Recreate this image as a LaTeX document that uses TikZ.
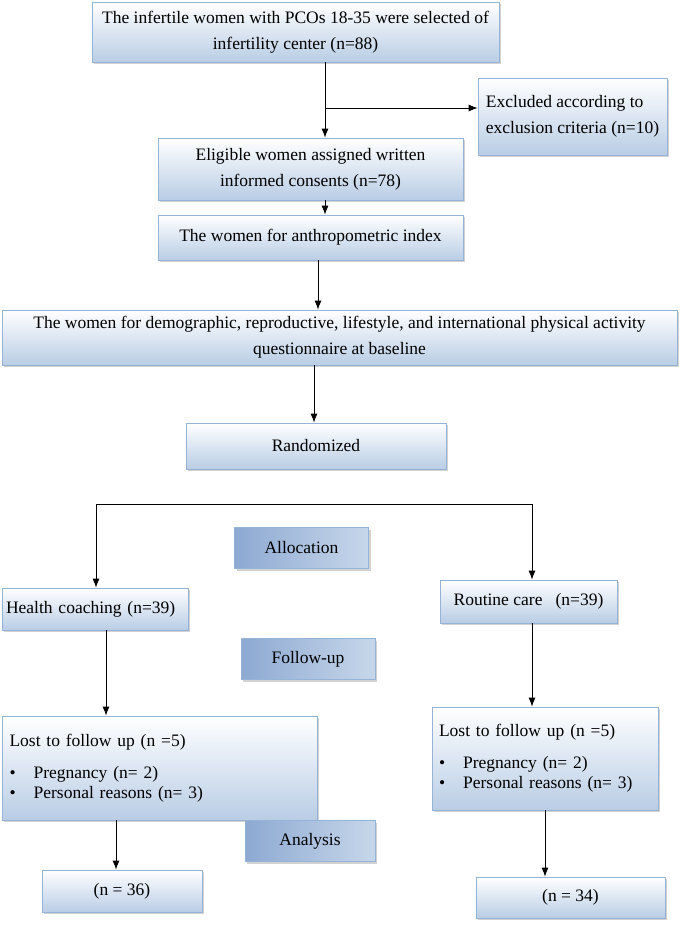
\documentclass[tikz,border=0pt]{standalone}
\usepackage{fontspec}
\setmainfont{Liberation Serif}
\usetikzlibrary{shadows}
\definecolor{boxline}{HTML}{95B3D7}
\definecolor{boxfill}{HTML}{B9CDE5}
\definecolor{stagefill}{HTML}{8DA9D2}
\tikzset{
  box/.style={draw=boxline, thick, top color=white, bottom color=boxfill,
    drop shadow={shadow xshift=2pt, shadow yshift=-2pt, fill=gray!70},
    inner sep=3pt, font=\fontsize{17.5}{26}\selectfont, align=center},
  stage/.style={draw=boxline, left color=stagefill, middle color=white, right color=boxfill!80,
    drop shadow={shadow xshift=2pt, shadow yshift=-2pt, fill=gray!70},
    minimum width=134pt, minimum height=41pt, font=\fontsize{17.5}{20}\selectfont},
  link/.style={-{Latex[length=9pt,width=7pt]}, thick}
}
\usetikzlibrary{arrows.meta}
\begin{document}
\begin{tikzpicture}[x=1pt, y=-1pt]
\useasboundingbox (0,0) rectangle (685,951);

% Boxes
\node[box, minimum width=407pt, minimum height=60pt] (select) at (295.5,32) {The infertile women with PCOs 18-35 were selected of\\infertility center (n=88)};
\node[box, minimum width=189pt, minimum height=77pt, align=left] (excl) at (572.5,116.5) {Excluded according to\\exclusion criteria (n=10)};
\node[box, minimum width=305pt, minimum height=62pt] (elig) at (310.5,169) {Eligible women assigned written\\informed consents (n=78)};
\node[box, minimum width=305pt, minimum height=45pt] (anthro) at (310.5,237.5) {The women for anthropometric index};
\node[box, minimum width=675pt, minimum height=55pt] (demo) at (339.5,337.5) {The women for demographic, reproductive, lifestyle, and international physical activity\\questionnaire at baseline};
\node[box, minimum width=260pt, minimum height=46pt] (rand) at (316,446) {Randomized};
\node[box, minimum width=186pt, minimum height=42pt, align=left, text width=178pt] (coach) at (95,609) {Health coaching (n=39)};
\node[box, minimum width=177pt, minimum height=43pt] (routine) at (528.5,601.5) {Routine care~~ (n=39)};
\node[box, minimum width=315pt, minimum height=104pt, align=left, text width=300pt] (lostA) at (159.5,768) {Lost to follow up (n =5)\\[6pt]
  \textbullet\hspace{18pt}Pregnancy (n= 2)\\[-6pt]
  \textbullet\hspace{18pt}Personal reasons (n= 3)};
\node[box, minimum width=226pt, minimum height=103pt, align=left, text width=212pt] (lostB) at (545,758.5) {Lost to follow up (n =5)\\[6pt]
  \textbullet\hspace{18pt}Pregnancy (n= 2)\\[-6pt]
  \textbullet\hspace{18pt}Personal reasons (n= 3)};
\node[box, minimum width=160pt, minimum height=42pt] (endA) at (122,891) {(n = 36)};
\node[box, minimum width=189pt, minimum height=41pt] (endB) at (570.5,897.5) {(n = 34)};

% Stages
\node[stage] (alloc) at (301.5,548) {Allocation};
\node[stage] (follow) at (308,659) {Follow-up};
\node[stage, minimum width=130pt] (analysis) at (310,841) {Analysis};

% Connectors
\draw[link] (select.south -| 325,0) -- (elig.north -| 325,0);
\coordinate (split) at (325,108);
\draw[link] (split) -- (split -| excl.west);
\draw[link] (elig.south -| 325,0) -- (anthro.north -| 325,0);
\draw[link] (anthro.south -| 318,0) -- (demo.north -| 318,0);
\draw[link] (demo.south -| 314,0) -- (rand.north -| 314,0);
\coordinate (forkL) at (96,504);
\coordinate (forkR) at (532,504);
\draw[thick] (forkL) -- (forkR);
\draw[link] (forkL) -- (forkL |- coach.north);
\draw[link] (forkR) -- (forkR |- routine.north);
\draw[link] (coach.south -| 106,0) -- (lostA.north -| 106,0);
\draw[link] (routine.south -| 532,0) -- (lostB.north -| 532,0);
\draw[link] (lostA.south -| 116,0) -- (endA.north -| 116,0);
\draw[link] (lostB.south -| 545,0) -- (endB.north -| 545,0);
\end{tikzpicture}
\end{document}
